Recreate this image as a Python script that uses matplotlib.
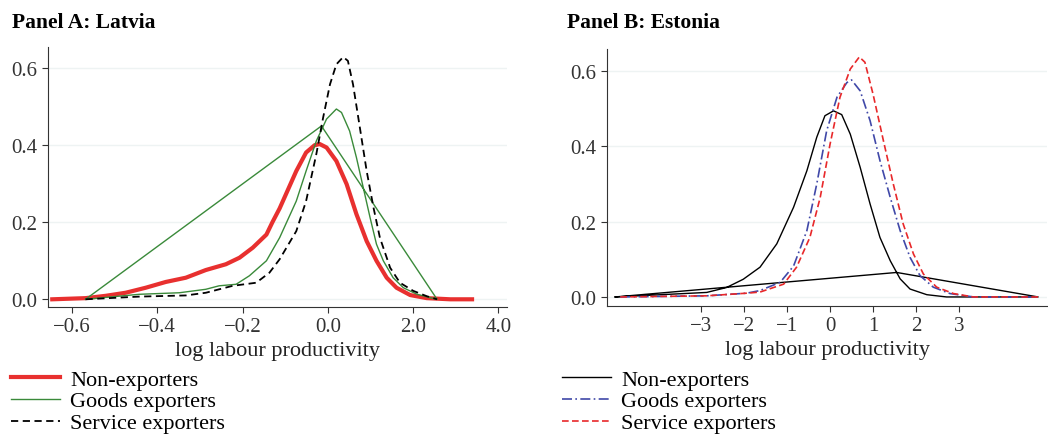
import numpy as np
import matplotlib.pyplot as plt

plt.rcParams['font.family'] = ['Liberation Serif', 'DejaVu Serif']

# Panel A: Latvia (x in tick-position units, ticks labelled as in the source)
a_ticks = [-6, -4, -2, 0, 2, 4]
a_ticklabels = ['\u22120.6', '\u22120.4', '\u22120.2', '0.0', '2.0', '4.0']

a_non_x = [-6.46, -5.68, -5.21, -4.74, -4.27, -3.80, -3.33, -2.86, -2.39, -2.07, -1.76,
           -1.44, -1.3, -1.13, -0.74, -0.51, -0.31, -0.19, -0.03, 0.2, 0.44, 0.67, 0.91,
           1.14, 1.38, 1.61, 1.93, 2.32, 2.87, 3.38]
a_non_y = [0.0, 0.003, 0.009, 0.017, 0.03, 0.045, 0.056, 0.076, 0.091, 0.108, 0.134,
           0.168, 0.2, 0.236, 0.333, 0.381, 0.40, 0.403, 0.394, 0.359, 0.299, 0.221, 0.151,
           0.1, 0.056, 0.03, 0.011, 0.003, 0.0, 0.0]

a_goods_x = [-5.68, -4.42, -3.48, -2.86, -2.55, -2.15, -1.84, -1.44, -1.13, -0.74, -0.51,
             -0.27, -0.03, 0.2, 0.32, 0.51, 0.67, 0.83, 0.99, 1.14, 1.3, 1.53, 1.77,
             2.09, 2.56, -0.15, -5.68]
a_goods_y = [0.0, 0.013, 0.017, 0.026, 0.035, 0.039, 0.061, 0.1, 0.16, 0.255, 0.333,
             0.411, 0.468, 0.494, 0.485, 0.437, 0.368, 0.29, 0.212, 0.143, 0.1, 0.056, 0.03,
             0.013, 0.0, 0.45, 0.0]

a_serv_x = [-5.68, -4.42, -3.33, -2.86, -2.23, -1.68, -1.37, -1.13, -0.74, -0.51, -0.27,
            -0.11, 0.05, 0.2, 0.36, 0.47, 0.59, 0.75, 0.91, 1.07, 1.22, 1.46, 1.69, 2.0,
            2.32, 2.56]
a_serv_y = [0.0, 0.007, 0.010, 0.017, 0.035, 0.043, 0.069, 0.104, 0.177, 0.255, 0.377,
            0.472, 0.558, 0.61, 0.629, 0.619, 0.558, 0.446, 0.333, 0.238, 0.16, 0.082,
            0.043, 0.022, 0.008, 0.0]

# Panel B: Estonia
b_ticks = [-3, -2, -1, 0, 1, 2, 3]
b_ticklabels = ['\u22123', '\u22122', '\u22121', '0', '1', '2', '3']

b_non_x = [-5.0, -2.87, -2.41, -2.02, -1.63, -1.24, -0.85, -0.54, -0.31, -0.12, 0.08,
           0.27, 0.47, 0.7, 0.93, 1.16, 1.40, 1.63, 1.86, 2.25, 2.71, 3.02, 4.84, 1.55, -5.0]
b_non_y = [0.0, 0.012, 0.025, 0.047, 0.079, 0.141, 0.238, 0.335, 0.424, 0.481, 0.494,
           0.484, 0.432, 0.344, 0.247, 0.158, 0.096, 0.048, 0.021, 0.006, 0.0, 0.0, 0.0,
           0.065, 0.0]

b_goods_x = [-4.88, -2.87, -1.94, -1.63, -1.16, -0.85, -0.54, -0.31, -0.08, 0.16, 0.39,
             0.5, 0.7, 0.93, 1.16, 1.40, 1.63, 1.86, 2.09, 2.40, 2.79, 3.33, 4.84]
b_goods_y = [0.0, 0.003, 0.01, 0.017, 0.039, 0.082, 0.176, 0.3, 0.441, 0.53, 0.569,
             0.576, 0.547, 0.468, 0.362, 0.264, 0.176, 0.105, 0.057, 0.026, 0.009, 0.0, 0.0]

b_serv_x = [-4.88, -2.87, -1.94, -1.63, -1.08, -0.78, -0.47, -0.23, 0.0, 0.23, 0.47,
            0.68, 0.81, 1.0, 1.24, 1.47, 1.70, 1.94, 2.17, 2.48, 2.87, 3.33, 4.84]
b_serv_y = [0.0, 0.003, 0.01, 0.013, 0.034, 0.079, 0.158, 0.264, 0.406, 0.53, 0.605,
            0.637, 0.623, 0.538, 0.415, 0.3, 0.194, 0.114, 0.061, 0.026, 0.009, 0.0, 0.0]

labels = ['Non-exporters', 'Goods exporters', 'Service exporters']
yticks = [0.0, 0.2, 0.4, 0.6]

fig = plt.figure(figsize=(10.48, 4.39), dpi=100)
axA = fig.add_axes([0.0458, 0.2984, 0.438, 0.5923])
axB = fig.add_axes([0.5792, 0.3007, 0.42, 0.5853])

for ax in (axA, axB):
    for s in ('top', 'right'):
        ax.spines[s].set_visible(False)
    for s in ('left', 'bottom'):
        ax.spines[s].set_color('#333333')
    ax.set_yticks(yticks)
    ax.set_yticklabels(['%.1f' % v for v in yticks])
    ax.grid(axis='y', color='#eef3f3', linewidth=1)
    ax.set_axisbelow(True)
    ax.tick_params(labelsize=15, colors='#333333', length=4)
    ax.set_xlabel('log labour productivity', fontsize=16, color='#222222', labelpad=3)

# Panel A
axA.plot(a_non_x, a_non_y, color='#e8302f', lw=3, label=labels[0])
axA.plot(a_goods_x, a_goods_y, color='#3a8a3a', lw=1, label=labels[1])
axA.plot(a_serv_x, a_serv_y, color='black', lw=1.3, ls=(0, (4, 2.5)), label=labels[2])
axA.set_xticks(a_ticks)
axA.set_xticklabels(a_ticklabels)
axA.set_xlim(-6.56, 4.2)
axA.set_ylim(-0.02, 0.655)

# Panel B
axB.plot(b_non_x, b_non_y, color='black', lw=1, label=labels[0])
axB.plot(b_goods_x, b_goods_y, color='#4048a8', lw=1.2, ls=(0, (6, 2, 1, 2)), label=labels[1])
axB.plot(b_serv_x, b_serv_y, color='#e8282a', lw=1.2, ls=(0, (4, 2)), label=labels[2])
axB.set_xticks(b_ticks)
axB.set_xticklabels(b_ticklabels)
axB.set_xlim(-5.19, 5.05)
axB.set_ylim(-0.024, 0.658)

fig.text(12 / 1048, 1 - 28 / 439, 'Panel A: Latvia', fontsize=15.5, fontweight='bold', va='baseline')
fig.text(567 / 1048, 1 - 28 / 439, 'Panel B: Estonia', fontsize=15.5, fontweight='bold', va='baseline')

for ax, x0 in ((axA, 11 / 1048), (axB, 562 / 1048)):
    ax.legend(loc='upper left', bbox_to_anchor=(x0, 1 - 370 / 439), bbox_transform=fig.transFigure,
              frameon=False, fontsize=16, handlelength=2.2, handletextpad=0.45,
              labelspacing=0.06, borderpad=0, borderaxespad=0)

fig.savefig('out.png', dpi=100)
